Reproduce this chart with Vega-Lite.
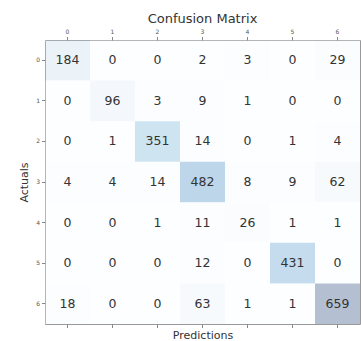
{
  "$schema": "https://vega.github.io/schema/vega-lite/v6.json",
  "width": 315,
  "height": 284,
  "autosize": {"type": "none"},
  "padding": {"left": 45, "top": 40, "right": 1, "bottom": 17},
  "background": "white",
  "title": {"text": "Confusion Matrix", "fontSize": 13, "font": "DejaVu Sans", "fontWeight": "normal", "color": "#333333", "offset": 3},
  "data": {"values": [
    {"actual": 0, "pred": 0, "n": 184}, {"actual": 0, "pred": 1, "n": 0}, {"actual": 0, "pred": 2, "n": 0}, {"actual": 0, "pred": 3, "n": 2}, {"actual": 0, "pred": 4, "n": 3}, {"actual": 0, "pred": 5, "n": 0}, {"actual": 0, "pred": 6, "n": 29},
    {"actual": 1, "pred": 0, "n": 0}, {"actual": 1, "pred": 1, "n": 96}, {"actual": 1, "pred": 2, "n": 3}, {"actual": 1, "pred": 3, "n": 9}, {"actual": 1, "pred": 4, "n": 1}, {"actual": 1, "pred": 5, "n": 0}, {"actual": 1, "pred": 6, "n": 0},
    {"actual": 2, "pred": 0, "n": 0}, {"actual": 2, "pred": 1, "n": 1}, {"actual": 2, "pred": 2, "n": 351}, {"actual": 2, "pred": 3, "n": 14}, {"actual": 2, "pred": 4, "n": 0}, {"actual": 2, "pred": 5, "n": 1}, {"actual": 2, "pred": 6, "n": 4},
    {"actual": 3, "pred": 0, "n": 4}, {"actual": 3, "pred": 1, "n": 4}, {"actual": 3, "pred": 2, "n": 14}, {"actual": 3, "pred": 3, "n": 482}, {"actual": 3, "pred": 4, "n": 8}, {"actual": 3, "pred": 5, "n": 9}, {"actual": 3, "pred": 6, "n": 62},
    {"actual": 4, "pred": 0, "n": 0}, {"actual": 4, "pred": 1, "n": 0}, {"actual": 4, "pred": 2, "n": 1}, {"actual": 4, "pred": 3, "n": 11}, {"actual": 4, "pred": 4, "n": 26}, {"actual": 4, "pred": 5, "n": 1}, {"actual": 4, "pred": 6, "n": 1},
    {"actual": 5, "pred": 0, "n": 0}, {"actual": 5, "pred": 1, "n": 0}, {"actual": 5, "pred": 2, "n": 0}, {"actual": 5, "pred": 3, "n": 12}, {"actual": 5, "pred": 4, "n": 0}, {"actual": 5, "pred": 5, "n": 431}, {"actual": 5, "pred": 6, "n": 0},
    {"actual": 6, "pred": 0, "n": 18}, {"actual": 6, "pred": 1, "n": 0}, {"actual": 6, "pred": 2, "n": 0}, {"actual": 6, "pred": 3, "n": 63}, {"actual": 6, "pred": 4, "n": 1}, {"actual": 6, "pred": 5, "n": 1}, {"actual": 6, "pred": 6, "n": 659}
  ]},
  "encoding": {
    "y": {
      "field": "actual", "type": "ordinal",
      "scale": {"paddingInner": 0, "paddingOuter": 0},
      "axis": {"orient": "left", "title": "Actuals", "labelAngle": 0, "titlePadding": 6}
    }
  },
  "layer": [
    {
      "mark": {"type": "rect", "opacity": 0.3},
      "encoding": {
        "x": {"field": "pred", "type": "ordinal", "scale": {"paddingInner": 0, "paddingOuter": 0},
              "axis": {"orient": "top", "title": null, "labelAngle": 0}},
        "color": {
          "field": "n", "type": "quantitative", "legend": null,
          "scale": {"type": "linear",
                    "domain": [0, 82.375, 164.75, 247.125, 329.5, 411.875, 494.25, 576.625, 659],
                    "range": ["#f7fbff", "#deebf7", "#c6dbef", "#9ecae1", "#6baed6", "#4292c6", "#2171b5", "#08519c", "#08306b"]}
        }
      }
    },
    {
      "mark": {"type": "text", "font": "DejaVu Sans", "fontSize": 12.5, "color": "#333333"},
      "encoding": {
        "x": {"field": "pred", "type": "ordinal",
              "axis": {"orient": "bottom", "labels": false, "title": "Predictions", "titlePadding": 1}},
        "text": {"field": "n", "type": "quantitative"}
      }
    }
  ],
  "resolve": {"axis": {"x": "independent"}},
  "config": {
    "view": {"stroke": "#999999", "strokeWidth": 1},
    "axis": {
      "domain": false, "grid": false,
      "tickColor": "#888888", "tickSize": 3.5, "tickWidth": 1,
      "labelFont": "DejaVu Sans", "labelFontSize": 6, "labelColor": "#555555", "labelPadding": 2,
      "titleFont": "DejaVu Sans", "titleFontSize": 11, "titleFontWeight": "normal", "titleColor": "#333333"
    }
  }
}
